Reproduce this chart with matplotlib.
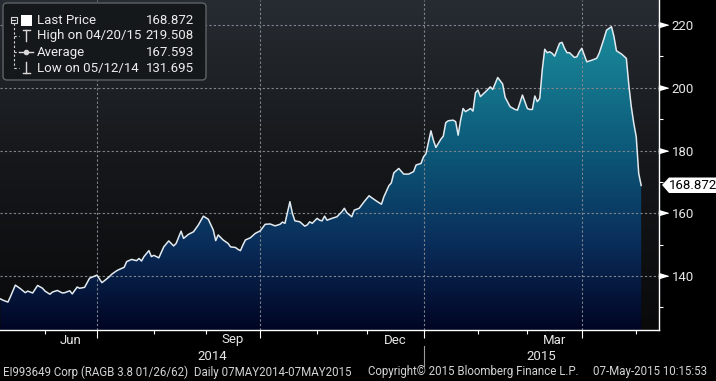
import numpy as np
import matplotlib
matplotlib.use("Agg")
import matplotlib.pyplot as plt
from matplotlib.colors import LinearSegmentedColormap
from matplotlib.patches import FancyBboxPatch, Polygon, Rectangle
from matplotlib.transforms import Affine2D, blended_transform_factory

plt.rcParams['font.family'] = ['Roboto', 'DejaVu Sans']

# trading days since 07-May-2014 and price
day = [0, 1, 3, 4, 6, 8, 10, 11, 13, 15, 17, 18, 20, 21, 23, 25, 26, 28, 29, 31, 32, 34, 36, 39, 41, 42, 44,
       45, 47, 48, 50, 51, 53, 55, 56, 57, 58, 60, 61, 62, 64, 66, 68, 70, 71, 73, 74, 76, 78, 80, 82, 84, 86, 87,
       88, 90, 92, 93, 95, 96, 97, 98, 99, 101, 103, 105, 107, 109, 111, 113, 114, 115, 117, 118, 119, 121, 123,
       124, 125, 126, 127, 128, 129,
       130, 131, 132, 134, 136, 138, 139, 140, 142, 143, 145, 147, 149, 150, 152, 154, 155, 157, 158, 159, 161,
       163, 165, 167, 168, 170, 171, 172,
       174, 175, 176, 178, 179, 180, 181, 183, 184, 185, 186, 187, 188, 190, 191, 192, 193, 194, 196, 198, 199,
       201, 203, 204, 206, 208, 209, 211, 213, 214,
       215, 216, 217, 218, 219, 220, 221, 222, 223, 224, 226, 227, 228, 229, 230, 232, 233, 234, 235, 237, 239,
       241, 242, 244, 245, 247, 248, 249, 251, 253, 254, 255, 256, 257, 258, 259]
price = [132.7, 132.3, 131.7, 133.4, 137.1, 136.0, 134.7, 135.2, 134.6, 137.0, 136.1, 135.2, 134.2, 134.9, 135.4,
         134.6, 134.7, 135.3, 134.3, 136.5, 136.1, 136.4, 139.3, 140.3, 137.9, 138.5, 139.8,
         140.6, 141.7, 142.1, 142.8, 144.6, 145.3, 144.9, 145.6, 144.8, 146.2, 148.1, 146.2, 146.6, 145.8, 149.3,
         151.2, 149.6, 150.4, 154.3, 152.0, 153.3, 154.1, 156.3, 159.1, 158.1, 154.7, 151.3,
         153.1, 151.5, 150.4, 149.3, 149.1, 148.5, 148.1, 149.9, 151.5, 152.2, 153.6, 154.4, 156.5, 156.6, 156.0,
         156.5, 157.2, 156.8, 163.7, 160.0, 157.6, 157.3, 155.9, 156.3, 157.3, 156.8, 157.6, 158.4, 157.8,
         157.6, 159.1, 157.8, 158.4, 158.9, 160.5, 161.6, 160.2, 158.9, 161.0, 161.6, 163.7, 165.6, 165.0, 163.9,
         162.9, 165.3, 168.8, 169.7, 172.9, 174.3, 172.5, 172.5, 173.3, 175.4, 175.9, 178.0, 179.0,
         186.3, 183.3, 181.0, 183.6, 184.6, 188.9, 189.5, 189.7, 189.2, 184.9, 189.7, 193.4, 192.4, 193.4, 192.6,
         198.4, 199.3, 197.2, 198.7, 200.3, 199.5, 203.3, 201.2, 197.0, 194.0, 193.1, 192.9, 197.7, 193.4, 193.1,
         193.1, 197.4, 195.6, 196.6, 205.7, 212.3, 211.2, 211.5, 211.0, 210.1, 214.2, 214.5, 212.6, 211.2, 211.2,
         209.7, 209.9, 211.5, 212.6, 208.3, 208.8, 209.4, 211.0, 215.8, 218.4, 219.5, 216.3, 211.8, 210.8, 209.4,
         200.9, 194.0, 188.7, 184.4, 172.7, 168.872]

start = '2014-05-07'
month_starts = ['2014-06-01', '2014-07-01', '2014-08-01', '2014-09-01', '2014-10-01', '2014-11-01',
                '2014-12-01', '2015-01-01', '2015-02-01', '2015-03-01', '2015-04-01', '2015-05-01']
quarter_starts = ['2014-07-01', '2014-10-01', '2015-01-01', '2015-04-01']
month_labels = ['Jun', 'Sep', 'Dec', 'Mar']
month_spans = [('2014-06-01', '2014-07-01'), ('2014-09-01', '2014-10-01'),
               ('2014-12-01', '2015-01-01'), ('2015-03-01', '2015-04-01')]
year_labels = ['2014', '2015']
y_major = [140, 160, 180, 200, 220]
y_minor = [130, 150, 170, 190, 210]

legend_rows = [('Last Price', '168.872'), ('High on 04/20/15', '219.508'),
               ('Average', '167.593'), ('Low on 05/12/14', '131.695')]
last_price = price[-1]


def bday(d):
    return int(np.busday_count(start, d))


W, H = 716, 381
fig = plt.figure(figsize=(W / 100, H / 100), dpi=100, facecolor='black')
pix = Affine2D().scale(1, -1).translate(0, H).scale(1 / W, 1 / H) + fig.transFigure

ax = fig.add_axes([0, 51 / H, 659 / W, 330 / H])
ax.set_facecolor('black')
xlo, xhi = -0.2, 266.2
ylo, yhi = 122.8, 228.0
ax.set_xlim(xlo, xhi)
ax.set_ylim(ylo, yhi)

# background gradient
bg = LinearSegmentedColormap.from_list('bg', ['#0a0a0b', '#15171a', '#272c32'])
ax.imshow(np.linspace(0, 1, 256).reshape(-1, 1), extent=[xlo, xhi, ylo, yhi], origin='lower',
          cmap=bg, aspect='auto', zorder=0)

# area gradient clipped to the price curve
fill_cmap = LinearSegmentedColormap.from_list(
    'fill', [(0.0, '#010524'), (0.26, '#0a2d5a'), (0.54, '#0c5878'), (0.83, '#177f93'), (1.0, '#1f93a3')])
poly = ax.fill_between(day, price, ylo, facecolor='none', edgecolor='none')
im = ax.imshow(np.linspace(0, 1, 256).reshape(-1, 1), extent=[xlo, xhi, ylo, yhi], origin='lower',
               cmap=fill_cmap, aspect='auto', zorder=1)
im.set_clip_path(poly.get_paths()[0], transform=ax.transData)

# grid
for v in y_major:
    ax.axhline(v, color='#80868c', lw=0.8, ls=(0, (2, 2)), zorder=2)
for d in quarter_starts:
    ax.axvline(bday(d), color='#80868c', lw=0.8, ls=(0, (2, 2)), zorder=2)

ax.plot(day, price, color='#e2eaef', lw=1.1, zorder=3)

# axes styling
for s in ['left', 'top']:
    ax.spines[s].set_visible(False)
for s in ['right', 'bottom']:
    ax.spines[s].set_color('white')
    ax.spines[s].set_linewidth(1)
ax.yaxis.tick_right()
ax.set_yticks(y_major)
ax.set_yticks(y_minor, minor=True)
ax.tick_params(axis='y', which='major', length=0, pad=9, labelsize=9.5, labelcolor='#e6e6e6')
ax.tick_params(axis='y', which='minor', length=3, width=0.8, color='white')
ax.set_xticks([bday(d) for d in quarter_starts])
ax.set_xticks([bday(d) for d in month_starts if d not in quarter_starts], minor=True)
ax.tick_params(axis='x', which='major', length=6, width=0.8, color='white', labelbottom=False)
ax.tick_params(axis='x', which='minor', length=3, width=0.8, color='white')

# y tick arrows
tri = [(0, -0.3), (0, 0.3), (1, 0)]
ax.plot([1.0] * len(y_major), y_major, ls='none', marker=tri, ms=13, color='white',
        transform=blended_transform_factory(ax.transAxes, ax.transData), clip_on=False, zorder=5)

# x labels
xpix = blended_transform_factory(ax.transData, pix)
for lab, (a, b) in zip(month_labels, month_spans):
    ax.text((bday(a) + bday(b)) / 2, 340, lab, transform=xpix, ha='center', va='center',
            color='#e6e6e6', fontsize=9.5)
year_split = bday('2015-01-01')
ax.text((xlo + year_split) / 2, 356, year_labels[0], transform=xpix, ha='center', va='center',
        color='#e6e6e6', fontsize=9.5)
ax.text((year_split + xhi) / 2, 356, year_labels[1], transform=xpix, ha='center', va='center',
        color='#e6e6e6', fontsize=9.5)
ax.plot([year_split, year_split], [346, 366], color='#9a9a9a', lw=0.8, transform=xpix, clip_on=False)

# last price tag
fig.patches.append(Polygon([(662, 185), (669, 177.5), (716, 177.5), (716, 193), (669, 193)],
                           closed=True, facecolor='white', edgecolor='none', transform=pix))
fig.text(669, 185.5, f'{last_price:.3f}', transform=pix, ha='left', va='center', color='black',
         fontsize=9.5)

# legend box
fig.patches.append(FancyBboxPatch((3, 3), 203, 77, boxstyle='round,pad=0,rounding_size=4',
                                  facecolor='#15181b', edgecolor='#5e6368', lw=1, transform=pix))
row_y = [20.5, 35.7, 52.3, 68.3]
for (name, val), yy in zip(legend_rows, row_y):
    fig.text(37, yy, name, transform=pix, ha='left', va='center', color='#ececec', fontsize=9.5)
    fig.text(194, yy, val, transform=pix, ha='right', va='center', color='#ececec', fontsize=9.5)
lc = '#d8d8d8'
# tree
fig.patches.append(Rectangle((10.5, 16.5), 6, 6, facecolor='none', edgecolor=lc, lw=0.8, transform=pix))
fig.lines.append(plt.Line2D([12, 15], [19.5, 19.5], color=lc, lw=0.8, transform=pix))
fig.patches.append(Rectangle((21, 15), 11, 10.5, facecolor='white', edgecolor='none', transform=pix))
fig.lines.append(plt.Line2D([13.5, 13.5], [23, 68.3], color=lc, lw=0.8, ls=(0, (2, 2)), transform=pix))
for yy in row_y[1:]:
    fig.lines.append(plt.Line2D([13.5, 19], [yy, yy], color=lc, lw=0.8, ls=(0, (2, 2)), transform=pix))
# high icon
fig.lines.append(plt.Line2D([22.5, 30], [30, 30], color=lc, lw=1, transform=pix))
fig.lines.append(plt.Line2D([26.2, 26.2], [30, 41], color=lc, lw=1, transform=pix))
# average icon
fig.lines.append(plt.Line2D([19, 33], [52.3, 52.3], color=lc, lw=1, transform=pix))
fig.lines.append(plt.Line2D([26], [52.3], color=lc, marker='o', ms=3, transform=pix))
# low icon
fig.lines.append(plt.Line2D([22.5, 30], [73, 73], color=lc, lw=1, transform=pix))
fig.lines.append(plt.Line2D([26.2, 26.2], [62, 73], color=lc, lw=1, transform=pix))

# footer
fc = '#d4d4d4'
fig.text(3, 372, 'EI993649 Corp (RAGB 3.8 01/26/62)  Daily 07MAY2014-07MAY2015', transform=pix,
         ha='left', va='center', color=fc, fontsize=8.3)
fig.text(368, 372, 'Copyright\u00a9 2015 Bloomberg Finance L.P.', transform=pix,
         ha='left', va='center', color=fc, fontsize=8.3)
fig.text(707, 372, '07-May-2015 10:15:53', transform=pix, ha='right', va='center', color=fc, fontsize=8.3)

fig.savefig('out.png', dpi=100, facecolor='black')
